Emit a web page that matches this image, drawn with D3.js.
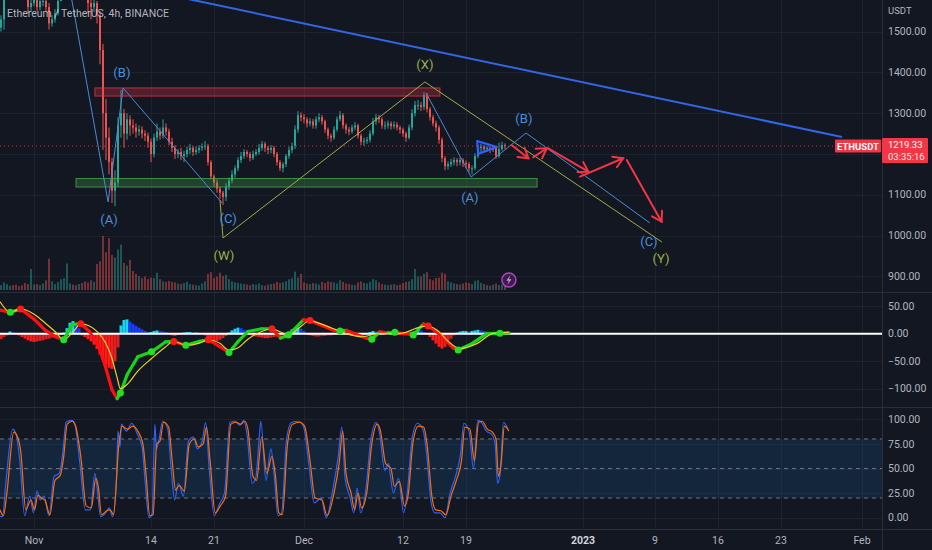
<!DOCTYPE html>
<html>
<head>
<meta charset="utf-8">
<script src="https://cdn.jsdelivr.net/npm/d3@7/dist/d3.min.js"></script>
<style>
html,body{margin:0;padding:0;background:#131722;overflow:hidden;}
svg{display:block;font-family:Roboto,"Noto Sans","Liberation Sans",sans-serif;}
</style>
</head>
<body>
<svg id="chart" width="932" height="550"></svg>
<script>
// ---------------- DATA ----------------
const title = "Ethereum / TetherUS, 4h, BINANCE";
const symbol = "ETHUSDT";
const currency = "USDT";
const countdown = "03:35:16";
const startDate = "2022-10-28T00:00:00Z";
const barHours = 8;
const firstOpen = 1490;

const closes = [
1510,1530,1590, 1610,1620,1615, 1600,1595,1590, 1585,1560,1570,
1580,1560,1575, 1575,1560,1520, 1530,1545,1575, 1600,1620,1645,
1650,1640,1630, 1635,1610,1600, 1570,1560,1570, 1540,1455,1300,
1240,1180,1110, 1130,1270,1300, 1250,1285,1270, 1265,1255,1260,
1250,1245,1230, 1200,1240,1255, 1245,1265,1255, 1230,1215,1200,
1205,1195,1200, 1210,1215,1205, 1210,1215,1218, 1220,1180,1145,
1130,1115,1105, 1095,1120,1135, 1150,1165,1185, 1195,1205,1200,
1190,1200,1205, 1215,1225,1215, 1210,1215,1200, 1180,1165,1175,
1195,1210,1220, 1260,1295,1290, 1285,1275,1280, 1270,1285,1290,
1280,1260,1245, 1240,1260,1285, 1295,1270,1260, 1255,1265,1270,
1245,1230,1232, 1235,1250,1280, 1290,1285,1270, 1270,1275,1268,
1272,1265,1260, 1250,1240,1265, 1300,1320,1320, 1315,1345,1310,
1290,1275,1265, 1235,1190,1170, 1175,1180,1185, 1180,1185,1178,
1175,1165,1165, 1195,1215,1218, 1212,1215,1210, 1215,1195,1212,
1222,1219.33];

const highs = [
1520,1540,1598, 1620,1635,1630, 1625,1610,1605, 1600,1592,1580,
1590,1588,1585, 1590,1585,1570, 1540,1555,1585, 1610,1630,1660,
1675,1660,1650, 1645,1640,1615, 1605,1580,1585, 1575,1550,1470,
1335,1265,1190, 1160,1290,1357, 1310,1300,1295, 1285,1275,1270,
1268,1258,1252, 1238,1250,1275, 1265,1285,1275, 1262,1240,1222,
1212,1215,1208, 1218,1225,1220, 1218,1222,1226, 1232,1225,1185,
1150,1138,1120, 1110,1128,1142, 1160,1172,1192, 1205,1212,1210,
1205,1208,1212, 1225,1232,1230, 1220,1222,1220, 1205,1185,1180,
1200,1218,1228, 1270,1305,1302, 1298,1290,1288, 1286,1292,1300,
1296,1284,1265, 1250,1268,1292, 1305,1300,1275, 1266,1272,1278,
1274,1250,1240, 1242,1258,1288, 1298,1296,1290, 1280,1282,1280,
1280,1278,1270, 1265,1255,1272, 1310,1330,1332, 1328,1352,1350,
1315,1296,1282, 1270,1240,1195, 1182,1188,1192, 1190,1192,1190,
1184,1180,1172, 1202,1222,1225, 1222,1220,1219, 1222,1218,1228,
1230,1226];

const lows = [
1482,1500,1505, 1588,1598,1605, 1592,1588,1585, 1582,1545,1548,
1562,1550,1552, 1562,1550,1505, 1512,1522,1540, 1585,1595,1612,
1635,1630,1618, 1622,1600,1590, 1545,1530,1548, 1520,1420,1210,
1185,1150,1080, 1072,1120,1240, 1215,1235,1245, 1250,1240,1245,
1238,1232,1215, 1180,1192,1232, 1235,1238,1245, 1222,1205,1188,
1190,1185,1180, 1192,1200,1195, 1198,1202,1208, 1210,1172,1138,
1120,1105,1090, 1075,1085,1112, 1128,1142,1158, 1178,1188,1192,
1182,1185,1195, 1198,1208,1205, 1200,1202,1192, 1172,1158,1155,
1168,1188,1202, 1212,1252,1280, 1275,1265,1268, 1262,1262,1278,
1272,1252,1236, 1230,1235,1255, 1280,1262,1250, 1246,1250,1258,
1238,1222,1220, 1225,1228,1245, 1272,1276,1262, 1260,1262,1260,
1262,1258,1250, 1242,1230,1236, 1258,1292,1308, 1305,1308,1302,
1282,1268,1255, 1225,1180,1160, 1162,1168,1172, 1170,1172,1168,
1165,1155,1150, 1160,1190,1205, 1205,1205,1202, 1205,1188,1190,
1208,1212];

const volumes = [
120,90,140,110,80,90,100,70,85,130,110,390,
100,110,90,120,180,580,160,110,150,200,220,490,
120,100,90,110,130,160,140,180,150,480,530,1000,
700,960,650,600,750,840,500,450,560,350,300,260,
220,250,200,230,220,320,200,160,150,170,150,140,
120,110,130,150,110,100,90,80,120,160,300,330,
220,250,320,260,280,200,160,140,130,120,110,100,
90,110,100,120,90,80,100,110,120,150,130,140,
160,200,220,340,230,300,140,120,110,130,120,100,
150,130,160,150,140,120,180,150,120,110,100,90,
140,160,130,120,150,200,180,140,110,100,90,100,
110,90,100,130,150,160,200,390,250,250,300,330,
200,180,220,230,320,300,160,140,120,110,100,120,
140,130,110,170,180,130,110,90,80,100,120,90,
100,80];

const histVals = [
-12,-10,-6,-3,4,2,-1,-3,-6,-9,-12,-14,
-15,-14,-13,-12,-10,-9,-7,-5,-3,-1,2,10,
20,23,18,10,-3,-6,-10,-14,-20,-28,-38,-48,
-56,-62,-64,-50,-25,15,25,26,22,18,14,11,
8,5,3,3,5,6,5,4,3,1,-3,-4,
-2,1,2,3,3,2,2,1,0,-3,-6,-9,
-12,-13,-11,-8,-4,2,6,9,11,10,7,4,
-2,-4,-5,-6,-7,-8,-8,-7,-6,-5,-4,-2,
1,4,8,10,11,9,5,-2,-3,-4,-5,-5,
-4,-4,-3,-3,-2,-1,1,2,-1,-2,-3,-3,
-2,-2,-1,1,3,5,4,2,1,3,4,2,
1,-1,-2,-2,-1,1,3,5,7,6,3,-2,
-6,-12,-18,-24,-27,-24,-16,-9,-3,2,4,5,
5,4,5,6,7,6,5,4,3,2,-2,-3,
-1,1];

const macdIdx = [0.67,4.1,7.55,12.15,15.6,19,21.9,24.8,27.6,30.5,33.4,35.7,38,39.7,40.8,43.1,46.6,51.2,55.8,58.6,62.6,67.2,70.1,74.1,77,79.9,83.3,87.9,91.3,94.2,96.8,101.8,104,108,112,114,116.2,119,122.9,124.6,127.3,130,132.3,135,137.3,138.4,141.8,143.4,147,151.8,153.4,158,162.9,167.3,170.3];
const macdVals = [43,39,45,26,7,-5,-11,17,18,4,-21,-58,-102,-118,-108,-74,-42,-33,-15,-14,-21,-14,-11,-24,-34,-15,4,9,9,-8,-2.4,25,24,15,6,5,6,0,-8.5,-10,3.6,1,2.5,0,-1,-2.4,17.6,14,0,-26,-29.6,-18,0,0.6,1.5];

const signalIdx = [0.67,4.1,7.55,12.15,15.6,19,21.9,24.8,27.6,30.5,33.4,35.7,38,39.7,40.8,43.1,46.6,51.2,55.8,58.6,62.6,67.2,70.1,74.1,77,79.9,83.3,87.9,91.3,94.2,96.8,100.7,104,105.5,111.4,115.8,121.4,127.3,134,140.7,143.4,146.2,150.7,154,159.6,165.1,170.3];
const signalVals = [58,39,45,35,20,4,-11,2,18,14,2,-15,-45,-80,-100,-92,-68,-45,-24,-14,-21,-17,-11,-18,-30,-26,-10,4,9,3,-2.4,12,24,22,10,0.6,-5.5,0.6,0.6,12,14,7,-17,-27,-18,0.6,2.5];

const crossIdx = [4.1,7.55,21.9,27.6,40.8,51.2,58.6,62.6,70.1,77,91.3,96.8,104,114,124.6,132.3,138.4,143.4,153.4,167.3];
const crossVals = [39,45,-11,18,-108,-33,-14,-21,-11,-34,9,-2.4,24,5,-10,2.5,-2.4,14,-29.6,0.6];
const crossUp = [1,0,1,0,1,1,0,1,0,1,0,1,0,1,1,1,1,0,1,1];

const stochKIdx = [0.3,1.5,2.6,4.9,6.0,7.2,8.9,10.6,11.8,13.0,14.1,15.3,17.0,18.7,20.4,21.6,22.7,24.5,25.6,27.3,29.1,30.8,32.3,33.1,34.2,35.9,37.1,38.2,39.5,40.0,40.7,41.1,42.8,44.6,46.3,48.0,49.1,50.3,51.4,52.3,52.8,53.7,54.9,56.6,57.7,58.9,60.1,61.8,63.5,65.2,66.4,68.1,69.2,70.4,72.1,73.8,75.5,77.3,79.0,80.7,81.9,83.0,84.7,85.9,87.3,87.6,89.3,91.0,92.2,93.3,94.5,96.2,97.9,100.2,101.9,103.7,105.4,107.7,109.4,111.7,113.4,114.6,115.7,117.4,118.6,119.7,120.9,122.6,124.3,126.1,127.2,128.9,130.2,130.7,131.8,133.5,135.2,136.4,138.1,139.8,141.6,142.7,144.4,145.6,147.3,149.0,150.7,152.5,154.2,155.3,157.0,158.5,159.9,161.1,162.8,164.5,165.7,166.5,167.4,168.5,170.0];
const stochKVals = [2,1,35,90,85,60,2,22,5,27,18,22,2,42,45,66,97,99,95,55,8,8,45,28,1,5,10,1,40,88,72,95,88,96,86,72,35,0,4,95,70,80,98,90,50,18,35,22,78,82,70,78,97,50,2,14,25,97,98,94,99,85,35,40,90,98,38,70,38,2,4,80,97,98,92,52,15,20,0,30,62,92,40,20,5,30,5,28,80,97,86,48,55,45,25,40,5,25,82,96,90,70,15,5,5,0,25,42,65,96,88,50,99,97,88,85,75,35,45,97,90];

const stochDIdx = [0.67,1.8,2.96,5.26,6.4,7.55,9.28,11.0,12.15,13.3,14.44,15.6,17.3,19.0,20.75,21.9,23.05,24.8,25.9,27.6,29.4,31.1,32.6,33.4,34.5,36.25,37.4,38.5,40.3,41.4,43.1,44.9,46.6,48.3,49.4,50.6,51.7,52.9,54.0,55.2,56.9,58.06,59.2,60.4,62.1,63.8,65.5,66.7,68.4,69.5,70.7,72.4,74.1,75.85,77.6,79.3,81.0,82.2,83.3,85.0,86.2,87.9,89.6,91.3,92.5,93.6,94.8,96.5,98.2,100.5,102.2,104.0,105.7,108.0,109.7,112.0,113.7,114.9,116.0,117.7,118.9,120.0,121.2,122.9,124.6,126.4,127.5,129.2,131.0,132.1,133.8,135.5,136.7,138.4,140.1,141.9,143.0,144.7,145.9,147.6,149.3,151.0,152.8,154.5,155.6,157.3,158.8,160.2,161.4,163.1,164.8,166.0,166.8,167.7,168.8,170.3];
const stochDVals = [8,2,25,87,83,68,8,18,8,23,20,18,3,38,43,62,95,98,93,62,12,10,40,32,3,7,8,3,75,93,90,93,88,75,42,2,3,75,78,97,92,58,28,33,27,75,80,72,75,92,58,5,12,22,95,97,95,98,90,42,38,82,45,62,42,5,3,75,95,97,93,58,20,18,2,25,55,88,45,25,8,25,10,25,75,95,88,55,50,32,37,12,23,78,93,92,75,20,8,7,3,22,38,58,92,90,58,97,98,90,87,80,42,55,93,88];

const priceTicks = [900,1000,1100,1200,1300,1400,1500];
const macdTicks = [50,0,-50,-100];
const stochTicks = [100,75,50,25,0];
const stochLevels = [80,50,20];
const timeTickDates = ["2022-11-01","2022-11-14","2022-11-21","2022-12-01","2022-12-12","2022-12-19","2023-01-01","2023-01-09","2023-01-16","2023-01-23","2023-02-01"];
const timeTickLabels = ["Nov","14","21","Dec","12","19","2023","9","16","23","Feb"];

// drawings (bar index, price)
const trendIdx = [34,281.3], trendPrice = [1625.5,1241.7];
const abc1Idx = [23.3,36.7,41.7,74.7], abc1Price = [1631,1082.4,1361.8,1079.9];
const wxyIdx = [74,75,142.3,221.3], wxyPrice = [1087.3,994.1,1376.5,984.3];
const abc2Idx = [142.7,157.7,176,217.3], abc2Price = [1349.5,1143.6,1251.5,1030.9];
const triIdx = [159.7,166.3,160], triPrice = [1231.9,1217.2,1200];
const arrowFromIdx = [171.2,178.4,183.4,194,209.6], arrowFromPrice = [1222.1,1191.9,1214,1144.4,1185.3];
const arrowToIdx = [176.8,182.9,196.8,208.4,221.2], arrowToPrice = [1189.5,1214,1156.6,1189.5,1034.1];
const boxStartIdx = [32.3,26], boxEndIdx = [147.3,179.7], boxLow = [1342,1119], boxHigh = [1362,1140], boxKind = ["res","sup"];
const waveText = ["(B)","(A)","(C)","(W)","(X)","(B)","(A)","(C)","(Y)"];
const waveIdx = [41.3,37,76.7,75.3,142.3,175.3,157.3,217,221];
const wavePrice = [1401,1040.7,1043.1,952.5,1420.6,1288.2,1094.6,986.8,945.1];
const waveKind = ["abc","abc","abc","wxy","wxy","abc","abc","abc","wxy"];
const eventIdx = 170.3;

// ---------------- LAYOUT / SCALES ----------------
const W = 932, H = 550, axisX = 882;
const pane = {price:[0,292], macd:[292,407], stoch:[407,529], axis:[529,550]};
const C = {bg:"#131722", grid:"#1e222d", sep:"#2a2e39", text:"#b2b5be", up:"#26a69a", down:"#ef5350"};

const svg = d3.select("#chart");
svg.append("rect").attr("width",W).attr("height",H).attr("fill",C.bg);

const t0 = Date.parse(startDate);
const barDate = i => new Date(t0 + i*barHours*3600e3);
const xTime = d3.scaleUtc().domain([new Date("2022-11-01T00:00:00Z"), new Date("2023-02-01T00:00:00Z")]).range([34,862]);
const xb = i => xTime(barDate(i));
const yP = d3.scaleLinear().domain([900,1500]).range([276.4,31.6]);
const yM = d3.scaleLinear().domain([-100,50]).range([388.7,306.2]);
const yS = d3.scaleLinear().domain([0,100]).range([517.7,419.3]);
const yV = d3.scaleLinear().domain([0,1000]).range([290,236]);

const defs = svg.append("defs");
function clip(id, y0, y1){
  defs.append("clipPath").attr("id",id).append("rect").attr("x",0).attr("y",y0).attr("width",axisX).attr("height",y1-y0);
  return svg.append("g").attr("clip-path",`url(#${id})`);
}

// ---------------- GRID ----------------
const gridG = svg.append("g");
timeTickDates.forEach(d=>{
  const x = Math.round(xTime(new Date(d+"T00:00:00Z")))+0.5;
  gridG.append("line").attr("x1",x).attr("x2",x).attr("y1",0).attr("y2",pane.stoch[1]).attr("stroke",C.grid);
});
priceTicks.forEach(v=>gridG.append("line").attr("x1",0).attr("x2",axisX).attr("y1",Math.round(yP(v))+0.5).attr("y2",Math.round(yP(v))+0.5).attr("stroke",C.grid));
macdTicks.forEach(v=>gridG.append("line").attr("x1",0).attr("x2",axisX).attr("y1",Math.round(yM(v))+0.5).attr("y2",Math.round(yM(v))+0.5).attr("stroke",C.grid));
stochTicks.forEach(v=>gridG.append("line").attr("x1",0).attr("x2",axisX).attr("y1",Math.round(yS(v))+0.5).attr("y2",Math.round(yS(v))+0.5).attr("stroke",C.grid));

// ---------------- PRICE PANE ----------------
const pg = clip("cp", pane.price[0], pane.price[1]);
const bars = closes.map((c,i)=>{
  const o = i===0 ? firstOpen : closes[i-1];
  return {i, o, c, h:Math.max(highs[i],o,c), l:Math.min(lows[i],o,c), v:volumes[i]};
});
// volume
pg.append("g").selectAll("rect").data(bars).join("rect")
  .attr("x",d=>xb(d.i)-1).attr("width",2)
  .attr("y",d=>yV(d.v)).attr("height",d=>yV(0)-yV(d.v))
  .attr("fill",d=>d.c>=d.o?C.up:C.down).attr("opacity",0.45);
// candles
const cg = pg.append("g");
cg.selectAll("rect.w").data(bars).join("rect").attr("class","w")
  .attr("x",d=>xb(d.i)-0.5).attr("width",1)
  .attr("y",d=>yP(d.h)).attr("height",d=>Math.max(1,yP(d.l)-yP(d.h)))
  .attr("fill",d=>d.c>=d.o?C.up:C.down);
cg.selectAll("rect.b").data(bars).join("rect").attr("class","b")
  .attr("x",d=>xb(d.i)-1).attr("width",2)
  .attr("y",d=>yP(Math.max(d.o,d.c))).attr("height",d=>Math.max(1,Math.abs(yP(d.o)-yP(d.c))))
  .attr("fill",d=>d.c>=d.o?C.up:C.down);

// boxes
boxKind.forEach((k,j)=>{
  const col = k==="res" ? "#f23645" : "#4caf50";
  pg.append("rect").attr("x",xb(boxStartIdx[j])).attr("width",xb(boxEndIdx[j])-xb(boxStartIdx[j]))
    .attr("y",yP(boxHigh[j])).attr("height",yP(boxLow[j])-yP(boxHigh[j]))
    .attr("fill",col).attr("fill-opacity",0.28).attr("stroke",col).attr("stroke-opacity",0.75).attr("stroke-width",1);
});

const lineGen = d3.line();
function poly(idx, price, color, width){
  const pts = idx.map((v,k)=>[xb(v), yP(price[k])]);
  pg.append("path").attr("d", lineGen(pts)).attr("fill","none")
    .attr("stroke",color).attr("stroke-width",width).attr("stroke-linejoin","round");
}
poly(trendIdx, trendPrice, "#3366e6", 2);
poly(wxyIdx, wxyPrice, "#9cad4a", 1);
poly(abc1Idx, abc1Price, "#4a8ad4", 1);
poly(abc2Idx, abc2Price, "#4a8ad4", 1);
// triangle
{
  const pts = triIdx.map((v,k)=>[xb(v), yP(triPrice[k])]);
  pg.append("path").attr("d", lineGen(pts)+"Z").attr("fill","#2962ff").attr("fill-opacity",0.15)
    .attr("stroke","#2962ff").attr("stroke-width",2).attr("stroke-linejoin","round");
}
// arrows
arrowFromIdx.forEach((v,k)=>{
  const x1=xb(v), y1=yP(arrowFromPrice[k]), x2=xb(arrowToIdx[k]), y2=yP(arrowToPrice[k]);
  const a = Math.atan2(y2-y1, x2-x1), L=11, th=0.55;
  const g = pg.append("g").attr("stroke","#f23645").attr("stroke-width",2).attr("stroke-linecap","round").attr("fill","none");
  g.append("line").attr("x1",x1).attr("y1",y1).attr("x2",x2).attr("y2",y2);
  g.append("path").attr("d",`M${x2-L*Math.cos(a-th)},${y2-L*Math.sin(a-th)}L${x2},${y2}L${x2-L*Math.cos(a+th)},${y2-L*Math.sin(a+th)}`);
});
// wave labels
waveText.forEach((t,k)=>{
  pg.append("text").attr("x",xb(waveIdx[k])).attr("y",yP(wavePrice[k])).attr("dy","0.35em")
    .attr("text-anchor","middle").attr("font-size",13)
    .attr("fill", waveKind[k]==="abc" ? "#4a8fd9" : "#9cb04a").text(t);
});
// current price dotted line
const lastClose = closes[closes.length-1];
const yLast = yP(lastClose);
pg.append("line").attr("x1",0).attr("x2",axisX).attr("y1",yLast).attr("y2",yLast)
  .attr("stroke","#f23645").attr("stroke-opacity",0.8).attr("stroke-dasharray","1,3");
// event icon
{
  const ex = xb(eventIdx), ey = pane.price[1]-12;
  pg.append("circle").attr("cx",ex).attr("cy",ey).attr("r",7).attr("fill","#3a1d4a").attr("stroke","#ab47bc").attr("stroke-width",1.5);
  pg.append("path").attr("d",`M${ex+1.5},${ey-5}L${ex-2.5},${ey+0.8}L${ex},${ey+0.8}L${ex-1.5},${ey+5}L${ex+2.5},${ey-0.8}L${ex},${ey-0.8}Z`).attr("fill","#ce93d8");
}
// symbol label on the line
{
  const g = svg.append("g");
  g.append("rect").attr("x",axisX-47).attr("y",yLast-6.5).attr("width",46).attr("height",13).attr("fill","#f23645").attr("rx",1);
  g.append("text").attr("x",axisX-24).attr("y",yLast).attr("dy","0.36em").attr("text-anchor","middle")
    .attr("font-size",9.5).attr("font-weight",700).attr("fill","#fff").text(symbol);
}
// title
svg.append("text").attr("x",7).attr("y",17).attr("font-size",10.5).attr("fill","#d1d4dc").attr("fill-opacity",0.85).text(title);

// ---------------- MACD PANE ----------------
const mg = clip("cm", pane.macd[0], pane.macd[1]);
mg.append("g").selectAll("rect").data(histVals.map((v,i)=>({i,v,p:i?histVals[i-1]:v}))).join("rect")
  .attr("x",d=>xb(d.i)-1.5).attr("width",3)
  .attr("y",d=>Math.min(yM(0),yM(d.v))).attr("height",d=>Math.abs(yM(d.v)-yM(0)))
  .attr("fill",d=> d.v>=0 ? (d.v>=d.p ? "#18d6f0" : "#1a3cff") : (d.v<=d.p ? "#ff1a1a" : "#e02020"));
mg.append("line").attr("x1",0).attr("x2",axisX).attr("y1",yM(0)).attr("y2",yM(0)).attr("stroke","#ffffff").attr("stroke-width",2);
for(let k=0;k<macdIdx.length-1;k++){
  mg.append("line").attr("x1",xb(macdIdx[k])).attr("y1",yM(macdVals[k])).attr("x2",xb(macdIdx[k+1])).attr("y2",yM(macdVals[k+1]))
    .attr("stroke", macdVals[k+1]>=macdVals[k] ? "#19d419" : "#ff1010").attr("stroke-width",3.2).attr("stroke-linecap","round");
}
mg.append("path").attr("d", d3.line().curve(d3.curveMonotoneX)(signalIdx.map((v,k)=>[xb(v), yM(signalVals[k])])))
  .attr("fill","none").attr("stroke","#e8d030").attr("stroke-width",1.2);
crossIdx.forEach((v,k)=>{
  mg.append("circle").attr("cx",xb(v)).attr("cy",yM(crossVals[k])).attr("r",3.5).attr("fill", crossUp[k] ? "#22e022" : "#ff1a1a");
});

// ---------------- STOCH PANE ----------------
const sg = clip("cs", pane.stoch[0], pane.stoch[1]);
sg.append("rect").attr("x",0).attr("width",axisX).attr("y",yS(80)).attr("height",yS(20)-yS(80)).attr("fill","#2196f3").attr("fill-opacity",0.12);
stochLevels.forEach(v=>sg.append("line").attr("x1",0).attr("x2",axisX).attr("y1",yS(v)).attr("y2",yS(v))
  .attr("stroke","#787b86").attr("stroke-dasharray","4,4").attr("stroke-opacity",0.9));
const sLine = d3.line().curve(d3.curveMonotoneX);
sg.append("path").attr("d", sLine(stochKIdx.map((v,k)=>[xb(v), yS(stochKVals[k])]))).attr("fill","none").attr("stroke","#2962ff").attr("stroke-width",1.2);
sg.append("path").attr("d", sLine(stochDIdx.map((v,k)=>[xb(v), yS(stochDVals[k])]))).attr("fill","none").attr("stroke","#ff6d00").attr("stroke-width",1.2);

// ---------------- SEPARATORS ----------------
[pane.price[1], pane.macd[1], pane.stoch[1]].forEach(y=>svg.append("line").attr("x1",0).attr("x2",W).attr("y1",y+0.5).attr("y2",y+0.5).attr("stroke",C.sep));
svg.append("line").attr("x1",axisX+0.5).attr("x2",axisX+0.5).attr("y1",0).attr("y2",H).attr("stroke",C.sep);

// ---------------- AXES ----------------
const axG = svg.append("g").attr("font-size",10.5).attr("fill",C.text);
const f2 = d3.format(".2f");
const fmt = v => (v<0?"\u2212":"") + f2(Math.abs(v));
axG.append("text").attr("x",888).attr("y",11).attr("dy","0.35em").attr("font-size",9.5).text(currency);
// price tick labels, hidden where the last-price label sits (as the reference does)
priceTicks.filter(v=>Math.abs(yP(v)-(yLast+4))>16).forEach(v=>axG.append("text").attr("x",888).attr("y",yP(v)).attr("dy","0.35em").text(fmt(v)));
macdTicks.forEach(v=>axG.append("text").attr("x",888).attr("y",yM(v)).attr("dy","0.35em").text(fmt(v)));
stochTicks.forEach(v=>axG.append("text").attr("x",888).attr("y",yS(v)).attr("dy","0.35em").text(fmt(v)));
timeTickDates.forEach((d,k)=>{
  const lab = timeTickLabels[k];
  axG.append("text").attr("x",xTime(new Date(d+"T00:00:00Z"))).attr("y",540).attr("dy","0.35em").attr("text-anchor","middle")
    .attr("font-weight", /^\d{4}$/.test(lab)?700:400).attr("fill", /^\d{4}$/.test(lab)?"#d1d4dc":C.text).text(lab);
});
// last price label on axis
{
  const g = svg.append("g");
  g.append("rect").attr("x",axisX).attr("y",yLast-8).attr("width",46).attr("height",25).attr("fill","#f23645").attr("rx",1);
  g.append("text").attr("x",888).attr("y",yLast-1).attr("dy","0.35em").attr("font-size",9.5).attr("fill","#fff").text(f2(lastClose));
  g.append("text").attr("x",888).attr("y",yLast+10.5).attr("dy","0.35em").attr("font-size",9.5).attr("fill","#fff").attr("fill-opacity",0.9).text(countdown);
}
</script>
</body>
</html>
